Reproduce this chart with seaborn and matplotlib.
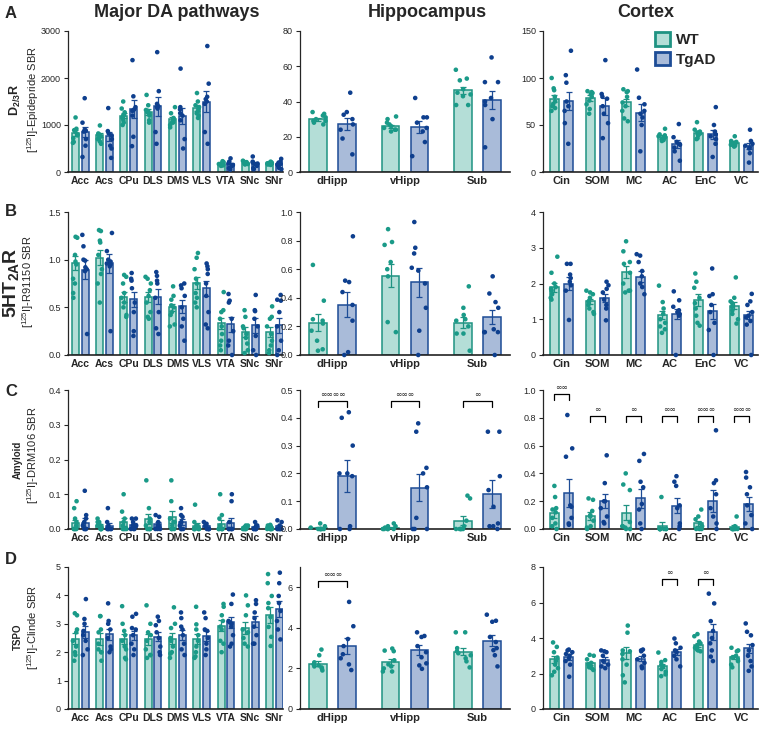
import numpy as np
import pandas as pd
import matplotlib.pyplot as plt
import seaborn as sns
from matplotlib.patches import Patch
from matplotlib.colors import to_hex
from matplotlib.ticker import FormatStrFormatter

sns.set_style("ticks")
plt.rcParams["font.family"] = ["Liberation Sans", "DejaVu Sans"]
plt.rcParams["mathtext.fontset"] = "custom"
plt.rcParams["mathtext.rm"] = "Liberation Sans"
plt.rcParams["mathtext.bf"] = "Liberation Sans:bold"
np.random.seed(3)

# ==============================
# DATA
# ==============================
da_regions = ["Acc", "Acs", "CPu", "DLS", "DMS", "VLS", "VTA", "SNc", "SNr"]
hip_regions = ["dHipp", "vHipp", "Sub"]
ctx_regions = ["Cin", "SOM", "MC", "AC", "EnC", "VC"]

# --- A: D2/3R, [125I]-Epidepride
d2_da_wt = [830, 780, 1200, 1280, 1120, 1360, 175, 200, 180]
d2_da_tg = [850, 760, 1340, 1400, 1190, 1500, 160, 170, 170]
d2_da_wt_sem = [60, 40, 55, 60, 50, 60, 12, 10, 10]
d2_da_tg_sem = [110, 100, 190, 200, 170, 220, 25, 25, 25]
d2_da_wt_pts = [
    [1160, 920, 890, 860, 800, 780, 720, 640, 620],
    [990, 820, 800, 790, 760, 720, 700, 650, 600],
    [1500, 1350, 1270, 1220, 1200, 1150, 1100, 1050, 1000],
    [1640, 1420, 1320, 1300, 1270, 1240, 1200, 1100, 1050],
    [1380, 1250, 1150, 1120, 1100, 1070, 1050, 1000, 950],
    [1680, 1500, 1420, 1380, 1350, 1300, 1250, 1200, 1150],
    [230, 210, 200, 180, 170, 160, 150, 140, 130],
    [240, 220, 210, 200, 200, 190, 180, 170, 160],
    [220, 200, 190, 185, 180, 170, 165, 160, 150],
]
d2_da_tg_pts = [
    [1570, 1050, 900, 880, 860, 700, 560, 320],
    [1360, 870, 820, 780, 700, 560, 500, 300],
    [2380, 1610, 1380, 1330, 1300, 1200, 750, 550],
    [2550, 1720, 1450, 1400, 1380, 1350, 850, 600],
    [2200, 1380, 1330, 1250, 1200, 1100, 700, 500],
    [2680, 1880, 1600, 1550, 1500, 1450, 850, 600],
    [290, 220, 200, 180, 150, 120, 80, 50],
    [330, 220, 200, 180, 170, 130, 80, 60],
    [280, 220, 200, 180, 160, 130, 90, 60],
]
d2_hip_wt = [29.8, 25.9, 46.3]
d2_hip_tg = [27.2, 25.5, 40.8]
d2_hip_wt_sem = [1.0, 0.9, 2.2]
d2_hip_tg_sem = [3.5, 3.3, 5.0]
d2_hip_wt_pts = [
    [34, 33, 32, 31, 30, 29, 28, 27, 29],
    [31.5, 30, 28, 27, 26, 25, 24, 23, 24],
    [58, 53, 52, 47, 45, 44, 43, 38, 38],
]
d2_hip_tg_pts = [
    [45, 34, 32.5, 30, 27, 24, 19, 10],
    [42, 31, 31, 28, 25, 23, 17, 9],
    [65, 51, 51, 42, 40, 38, 30, 14],
]
d2_ctx_wt = [78, 79, 74, 37.5, 42, 31]
d2_ctx_tg = [75.5, 70, 63, 30, 40, 27.5]
d2_ctx_wt_sem = [4, 3, 4, 2, 2, 1.5]
d2_ctx_tg_sem = [10, 9, 9, 4, 5, 3.5]
d2_ctx_wt_pts = [
    [100, 89, 87, 80, 75, 72, 68, 65, 70],
    [86, 85, 84, 83, 80, 76, 72, 67, 62],
    [88, 86, 85, 80, 74, 70, 65, 57, 54],
    [46, 40, 39, 38, 37, 36, 35, 34, 33],
    [53, 45, 43, 42, 41, 40, 39, 36, 35],
    [38, 33, 32, 31, 31, 30, 29, 28, 27],
]
d2_ctx_tg_pts = [
    [129, 103, 95, 75, 70, 65, 52, 30],
    [119, 83, 80, 78, 70, 62, 52, 36],
    [109, 79, 72, 65, 62, 58, 50, 22],
    [51, 37, 32, 30, 29, 26, 22, 12],
    [69, 50, 43, 40, 38, 35, 30, 16],
    [45, 33, 30, 28, 26, 25, 20, 10],
]

# --- B: 5HT2AR, [125I]-R91150
ht_da_wt = [0.965, 1.02, 0.61, 0.61, 0.50, 0.755, 0.333, 0.24, 0.24]
ht_da_tg = [0.895, 0.96, 0.585, 0.61, 0.51, 0.70, 0.32, 0.31, 0.31]
ht_da_wt_sem = [0.07, 0.08, 0.05, 0.05, 0.04, 0.06, 0.06, 0.05, 0.05]
ht_da_tg_sem = [0.10, 0.10, 0.08, 0.08, 0.07, 0.08, 0.08, 0.08, 0.08]
ht_da_wt_pts = [
    [1.24, 1.23, 1.05, 0.98, 0.95, 0.80, 0.75, 0.65, 0.60],
    [1.31, 1.30, 1.20, 1.18, 1.05, 0.90, 0.85, 0.75, 0.55],
    [0.84, 0.82, 0.75, 0.65, 0.60, 0.55, 0.50, 0.42, 0.40],
    [0.82, 0.80, 0.75, 0.68, 0.62, 0.55, 0.45, 0.40, 0.38],
    [0.72, 0.62, 0.58, 0.52, 0.50, 0.45, 0.42, 0.32, 0.30],
    [1.07, 1.02, 0.90, 0.80, 0.75, 0.65, 0.60, 0.55, 0.50],
    [0.66, 0.47, 0.45, 0.38, 0.30, 0.22, 0.15, 0.10, 0.05],
    [0.47, 0.40, 0.30, 0.28, 0.22, 0.18, 0.12, 0.05, 0.02],
    [0.51, 0.40, 0.38, 0.30, 0.22, 0.15, 0.10, 0.05, 0.02],
]
ht_da_tg_pts = [
    [1.26, 1.14, 1.00, 0.99, 0.92, 0.90, 0.88, 0.22],
    [1.28, 1.09, 1.00, 0.98, 0.96, 0.95, 0.93, 0.25],
    [0.86, 0.80, 0.78, 0.70, 0.55, 0.45, 0.25, 0.20],
    [0.87, 0.83, 0.78, 0.75, 0.60, 0.45, 0.28, 0.22],
    [0.75, 0.73, 0.70, 0.62, 0.50, 0.38, 0.30, 0.15],
    [0.96, 0.93, 0.90, 0.85, 0.75, 0.62, 0.45, 0.32, 0.28],
    [0.64, 0.57, 0.55, 0.38, 0.25, 0.15, 0.10, 0.0],
    [0.63, 0.47, 0.46, 0.38, 0.30, 0.20, 0.05, 0.0],
    [0.63, 0.58, 0.57, 0.45, 0.30, 0.15, 0.05, 0.0],
]
ht_hip_wt = [0.227, 0.553, 0.227]
ht_hip_tg = [0.353, 0.508, 0.267]
ht_hip_wt_sem = [0.06, 0.08, 0.04]
ht_hip_tg_sem = [0.085, 0.10, 0.05]
ht_hip_wt_pts = [
    [0.63, 0.38, 0.25, 0.24, 0.22, 0.17, 0.10, 0.04, 0.03],
    [0.88, 0.79, 0.77, 0.65, 0.60, 0.55, 0.23, 0.16],
    [0.48, 0.33, 0.28, 0.25, 0.24, 0.20, 0.15, 0.15, 0.03],
]
ht_hip_tg_pts = [
    [0.83, 0.52, 0.51, 0.44, 0.35, 0.24, 0.02, 0.0],
    [0.93, 0.75, 0.71, 0.61, 0.59, 0.50, 0.33, 0.17, 0.0],
    [0.55, 0.43, 0.37, 0.33, 0.18, 0.16, 0.16, 0.16, 0.0],
]
ht_ctx_wt = [1.89, 1.50, 2.31, 1.12, 1.55, 1.38]
ht_ctx_tg = [2.00, 1.60, 2.19, 1.14, 1.22, 1.12]
ht_ctx_wt_sem = [0.12, 0.08, 0.17, 0.12, 0.17, 0.10]
ht_ctx_tg_sem = [0.17, 0.12, 0.15, 0.14, 0.20, 0.12]
ht_ctx_wt_pts = [
    [2.75, 2.30, 2.00, 1.90, 1.80, 1.70, 1.60, 1.55, 1.85],
    [1.80, 1.75, 1.70, 1.60, 1.50, 1.40, 1.30, 1.20, 1.15],
    [3.18, 2.90, 2.60, 2.55, 2.30, 2.00, 1.80, 1.75, 1.80],
    [1.94, 1.48, 1.30, 1.15, 1.00, 0.90, 0.80, 0.72, 0.62],
    [2.28, 2.05, 1.88, 1.60, 1.45, 1.30, 1.10, 0.90, 0.82],
    [2.17, 1.60, 1.50, 1.45, 1.35, 1.25, 1.15, 1.00, 0.88],
]
ht_ctx_tg_pts = [
    [2.55, 2.55, 2.25, 2.15, 2.05, 1.95, 1.80, 0.98],
    [2.05, 1.95, 1.85, 1.75, 1.55, 1.40, 1.30, 0.97],
    [2.82, 2.78, 2.60, 2.35, 2.20, 2.00, 1.90, 1.70],
    [1.78, 1.53, 1.35, 1.25, 1.20, 1.15, 1.10, 0.0],
    [2.42, 1.70, 1.65, 1.40, 1.20, 0.90, 0.70, 0.0],
    [1.71, 1.50, 1.40, 1.20, 1.10, 1.05, 0.95, 0.85, 0.0],
]

# --- C: Amyloid, [125I]-DRM106
am_da_wt = [0.016, 0.010, 0.020, 0.028, 0.035, 0.010, 0.015, 0.005, 0.005]
am_da_tg = [0.018, 0.010, 0.012, 0.015, 0.020, 0.008, 0.018, 0.005, 0.008]
am_da_wt_sem = [0.009, 0.004, 0.011, 0.015, 0.017, 0.008, 0.011, 0.002, 0.002]
am_da_tg_sem = [0.013, 0.007, 0.005, 0.006, 0.008, 0.003, 0.014, 0.003, 0.003]
am_da_wt_pts = [
    [0.08, 0.06, 0.03, 0.02, 0.01, 0.0, 0.0, 0.0, 0.0],
    [0.03, 0.02, 0.02, 0.01, 0.01, 0.0, 0.0, 0.0, 0.0],
    [0.10, 0.05, 0.03, 0.02, 0.01, 0.0, 0.0, 0.0, 0.0],
    [0.14, 0.06, 0.03, 0.02, 0.01, 0.0, 0.0, 0.0, 0.0],
    [0.14, 0.08, 0.03, 0.02, 0.02, 0.01, 0.0, 0.0, 0.0],
    [0.07, 0.02, 0.01, 0.01, 0.0, 0.0, 0.0, 0.0, 0.0],
    [0.10, 0.04, 0.03, 0.01, 0.0, 0.0, 0.0, 0.0, 0.0],
    [0.01, 0.01, 0.005, 0.005, 0.0, 0.0, 0.0, 0.0, 0.0],
    [0.012, 0.01, 0.008, 0.005, 0.0, 0.0, 0.0, 0.0, 0.0],
]
am_da_tg_pts = [
    [0.11, 0.04, 0.03, 0.02, 0.01, 0.0, 0.0, 0.0],
    [0.06, 0.02, 0.01, 0.0, 0.0, 0.0, 0.0, 0.0],
    [0.03, 0.03, 0.02, 0.01, 0.01, 0.0, 0.0, 0.0],
    [0.04, 0.035, 0.02, 0.01, 0.01, 0.0, 0.0, 0.0],
    [0.06, 0.04, 0.035, 0.02, 0.01, 0.0, 0.0, 0.0],
    [0.02, 0.015, 0.01, 0.01, 0.0, 0.0, 0.0, 0.0],
    [0.10, 0.08, 0.02, 0.0, 0.0, 0.0, 0.0, 0.0],
    [0.02, 0.01, 0.01, 0.0, 0.0, 0.0, 0.0, 0.0],
    [0.025, 0.02, 0.01, 0.0, 0.0, 0.0, 0.0, 0.0],
]
am_hip_wt = [0.004, 0.005, 0.029]
am_hip_tg = [0.19, 0.149, 0.125]
am_hip_wt_sem = [0.002, 0.002, 0.016]
am_hip_tg_sem = [0.057, 0.05, 0.05]
am_hip_wt_pts = [
    [0.02, 0.01, 0.005, 0.0, 0.0, 0.0, 0.0, 0.0, 0.0],
    [0.02, 0.01, 0.01, 0.005, 0.0, 0.0, 0.0, 0.0, 0.0],
    [0.12, 0.11, 0.03, 0.01, 0.0, 0.0, 0.0, 0.0, 0.0],
]
am_hip_tg_pts = [
    [0.42, 0.40, 0.30, 0.20, 0.20, 0.19, 0.01, 0.0, 0.0],
    [0.38, 0.35, 0.22, 0.20, 0.15, 0.04, 0.0, 0.0, 0.0],
    [0.35, 0.35, 0.19, 0.14, 0.08, 0.02, 0.01, 0.01, 0.0],
]
am_hip_sig = ["∞∞∞∞", "∞∞∞", "∞"]
am_ctx_wt = [0.113, 0.094, 0.118, 0.024, 0.04, 0.017]
am_ctx_tg = [0.26, 0.204, 0.22, 0.168, 0.204, 0.177]
am_ctx_wt_sem = [0.035, 0.03, 0.055, 0.026, 0.016, 0.01]
am_ctx_tg_sem = [0.10, 0.05, 0.07, 0.055, 0.08, 0.05]
am_ctx_wt_pts = [
    [0.31, 0.23, 0.15, 0.14, 0.12, 0.08, 0.04, 0.02, 0.0],
    [0.22, 0.21, 0.13, 0.10, 0.09, 0.06, 0.02, 0.01, 0.0],
    [0.40, 0.32, 0.28, 0.05, 0.02, 0.02, 0.01, 0.0, 0.0],
    [0.23, 0.0, 0.0, 0.0, 0.0, 0.0, 0.0, 0.0, 0.0],
    [0.14, 0.09, 0.07, 0.04, 0.02, 0.0, 0.0, 0.0],
    [0.09, 0.02, 0.01, 0.0, 0.0, 0.0, 0.0, 0.0, 0.0],
]
am_ctx_tg_pts = [
    [0.82, 0.58, 0.52, 0.17, 0.16, 0.08, 0.04, 0.03],
    [0.53, 0.33, 0.20, 0.20, 0.15, 0.09, 0.05, 0.04],
    [0.54, 0.49, 0.34, 0.30, 0.18, 0.14, 0.04, 0.0],
    [0.38, 0.34, 0.31, 0.17, 0.15, 0.04, 0.02, 0.0],
    [0.71, 0.35, 0.33, 0.25, 0.15, 0.09, 0.04, 0.0],
    [0.41, 0.37, 0.30, 0.25, 0.17, 0.10, 0.04, 0.0],
]
am_ctx_sig = ["∞∞", "∞", "∞", "∞∞", "∞∞∞", "∞∞∞"]

# --- D: TSPO, [125I]-Clinde
ts_da_wt = [2.48, 2.46, 2.47, 2.45, 2.48, 2.47, 2.93, 2.86, 3.31]
ts_da_tg = [2.72, 2.63, 2.59, 2.55, 2.60, 2.58, 3.05, 3.08, 3.52]
ts_da_wt_sem = [0.20, 0.20, 0.18, 0.20, 0.18, 0.18, 0.20, 0.22, 0.28]
ts_da_tg_sem = [0.22, 0.20, 0.17, 0.17, 0.17, 0.17, 0.20, 0.20, 0.28]
ts_da_wt_pts = [
    [3.37, 3.30, 2.80, 2.70, 2.40, 2.20, 2.00, 1.70, 1.90],
    [3.27, 3.27, 2.80, 2.70, 2.30, 2.10, 2.00, 1.70, 2.00],
    [3.62, 3.00, 2.75, 2.60, 2.40, 2.20, 2.10, 1.80, 1.75],
    [3.65, 3.00, 2.70, 2.60, 2.40, 2.10, 1.90, 1.80, 1.90],
    [3.58, 3.00, 2.85, 2.50, 2.40, 2.20, 2.00, 1.80, 1.95],
    [3.60, 2.98, 2.80, 2.60, 2.40, 2.20, 2.00, 1.80, 1.85],
    [3.70, 3.60, 3.30, 3.10, 2.90, 2.80, 2.40, 2.30, 2.00],
    [4.00, 3.65, 3.30, 2.80, 2.70, 2.50, 2.30, 2.20],
    [4.75, 4.43, 3.98, 3.73, 3.55, 3.24, 2.89, 2.54, 2.22],
]
ts_da_tg_pts = [
    [3.87, 3.17, 3.00, 2.75, 2.60, 2.40, 2.10, 1.90],
    [3.72, 3.10, 3.00, 2.80, 2.50, 2.20, 2.10, 2.00],
    [3.35, 3.25, 2.85, 2.80, 2.60, 2.30, 2.10, 1.90],
    [3.25, 3.10, 2.95, 2.70, 2.50, 2.20, 2.00, 1.90],
    [3.40, 3.20, 2.90, 2.80, 2.60, 2.30, 2.10, 1.90],
    [3.40, 3.20, 2.80, 2.75, 2.50, 2.30, 2.10, 1.90],
    [4.03, 3.70, 3.10, 3.05, 2.90, 2.60, 2.30, 2.20, 3.00],
    [3.83, 3.70, 3.40, 3.20, 2.90, 2.60, 2.30, 2.30],
    [4.80, 4.43, 3.98, 3.73, 3.45, 3.10, 2.80, 2.45],
]
ts_hip_wt = [2.24, 2.32, 2.82]
ts_hip_tg = [3.10, 2.90, 3.37]
ts_hip_wt_sem = [0.12, 0.15, 0.18]
ts_hip_tg_sem = [0.38, 0.24, 0.28]
ts_hip_wt_pts = [
    [2.93, 2.65, 2.30, 2.20, 2.15, 2.10, 2.00, 1.90, 2.05],
    [2.98, 2.88, 2.85, 2.40, 2.20, 2.10, 2.00, 1.85, 1.85],
    [3.78, 3.78, 3.00, 2.85, 2.75, 2.65, 2.50, 2.35, 2.05],
]
ts_hip_tg_pts = [
    [5.28, 4.08, 3.45, 3.10, 2.70, 2.50, 2.20, 1.92],
    [3.78, 3.60, 3.55, 3.10, 2.80, 2.55, 2.25, 2.15, 1.98],
    [4.65, 4.35, 4.30, 3.55, 3.30, 3.00, 2.90, 2.65, 2.10],
]
ts_hip_sig = ["∞∞∞", "", ""]
ts_ctx_wt = [2.80, 2.57, 3.14, 2.42, 3.60, 2.93]
ts_ctx_tg = [2.95, 2.76, 2.84, 3.22, 4.32, 3.41]
ts_ctx_wt_sem = [0.20, 0.10, 0.35, 0.13, 0.12, 0.12]
ts_ctx_tg_sem = [0.17, 0.15, 0.15, 0.17, 0.45, 0.28]
ts_ctx_wt_pts = [
    [3.75, 3.50, 3.20, 2.90, 2.70, 2.50, 2.30, 2.10, 1.90],
    [3.05, 3.00, 2.80, 2.60, 2.50, 2.40, 2.35, 2.30, 2.20],
    [4.70, 4.30, 3.30, 3.25, 3.10, 2.80, 2.50, 1.90, 1.50],
    [3.18, 2.75, 2.65, 2.50, 2.40, 2.25, 2.10, 1.95, 1.85],
    [4.22, 4.10, 3.80, 3.70, 3.55, 3.45, 3.35, 3.25, 3.30],
    [3.45, 3.30, 3.25, 3.00, 2.90, 2.80, 2.70, 2.50, 2.35],
]
ts_ctx_tg_pts = [
    [3.35, 3.30, 3.20, 3.10, 3.00, 2.85, 2.70, 2.50, 1.82],
    [3.30, 3.25, 3.20, 3.00, 2.70, 2.50, 2.40, 2.30],
    [3.35, 3.30, 3.25, 3.00, 2.80, 2.60, 2.40, 2.30],
    [3.97, 3.70, 3.45, 3.30, 3.20, 3.00, 2.80, 2.40],
    [6.50, 5.95, 4.95, 4.40, 4.00, 3.70, 3.30, 2.95, 2.70],
    [4.82, 4.35, 4.15, 3.60, 3.30, 3.00, 2.70, 2.40, 2.15],
]
ts_ctx_sig = ["", "", "", "∞", "∞", ""]

# ==============================
# STYLE
# ==============================
WT_FILL, WT_EDGE, WT_DOT = "#b4ded7", "#1f9382", "#1a9a88"
TG_FILL, TG_EDGE, TG_DOT = "#a9bbd9", "#1d4c96", "#0e3f8e"
GENO = ["WT", "TgAD"]

W, H = 760, 729
fig = plt.figure(figsize=(W / 100, H / 100), dpi=100)


def box(x0, x1, y0, y1):
    return [x0 / W, 1 - y1 / H, (x1 - x0) / W, (y1 - y0) / H]


cols = {"da": (68, 283, (-0.5, 8.35), 0.28, 7.5),
        "hip": (300, 510, (-0.45, 2.45), 0.38, 8),
        "ctx": (543, 758, (-0.51, 5.46), 0.375, 8)}
rows = {"A": (31, 172), "B": (212, 355), "C": (390, 529), "D": (567, 709)}


def draw_panel(ax, regions, wt, tg, wt_sem, tg_sem, wt_pts, tg_pts, col, ylim, yticks, fmt=None):
    x0, x1, xlim, gap, xfs = cols[col]
    n = len(regions)
    bars = pd.DataFrame({"region": regions * 2, "geno": ["WT"] * n + ["TgAD"] * n,
                         "value": list(wt) + list(tg)})
    sns.barplot(data=bars, x="region", y="value", hue="geno", order=regions, hue_order=GENO,
                palette={"WT": WT_FILL, "TgAD": TG_FILL}, saturation=1, width=0.8, gap=gap,
                errorbar=None, legend=False, ax=ax, linewidth=1.1)
    for p in ax.patches:
        p.set_edgecolor(WT_EDGE if to_hex(p.get_facecolor()) == WT_FILL else TG_EDGE)

    x = np.arange(n)
    ax.errorbar(x - 0.2, wt, yerr=wt_sem, fmt="none", ecolor=WT_EDGE, elinewidth=0.9,
                capsize=2, capthick=0.9, zorder=3)
    ax.errorbar(x + 0.2, tg, yerr=tg_sem, fmt="none", ecolor=TG_EDGE, elinewidth=0.9,
                capsize=2, capthick=0.9, zorder=3)

    recs = []
    for r, vals in zip(regions, wt_pts):
        recs += [(r, "WT", v) for v in vals]
    for r, vals in zip(regions, tg_pts):
        recs += [(r, "TgAD", v) for v in vals]
    pts = pd.DataFrame(recs, columns=["region", "geno", "value"])
    sns.stripplot(data=pts, x="region", y="value", hue="geno", order=regions, hue_order=GENO,
                  palette={"WT": WT_DOT, "TgAD": TG_DOT}, dodge=True, jitter=0.22, size=3.3,
                  linewidth=0, legend=False, ax=ax, zorder=4, clip_on=False)

    ax.set_xlim(xlim)
    ax.set_ylim(ylim)
    ax.set_yticks(yticks)
    if fmt:
        ax.yaxis.set_major_formatter(FormatStrFormatter(fmt))
    ax.set_xlabel("")
    ax.set_ylabel("")
    ax.tick_params(axis="x", length=0, pad=3, labelsize=xfs)
    for lab in ax.get_xticklabels():
        lab.set_fontweight("bold")
    ax.tick_params(axis="y", length=3, width=0.8, labelsize=6.5, pad=2)
    sns.despine(ax=ax)
    ax.spines["left"].set_linewidth(0.9)
    ax.spines["bottom"].set_linewidth(1.2)
    ax.spines["bottom"].set_color("#222222")


def brackets(ax, labels, y, drop, text_gap):
    for i, lab in enumerate(labels):
        if not lab:
            continue
        ax.plot([i - 0.2, i - 0.2, i + 0.2, i + 0.2], [y - drop, y, y, y - drop],
                color="black", lw=0.9, clip_on=False)
        ax.text(i, y + text_gap, lab, ha="center", va="bottom", fontsize=5.5,
                family=["DejaVu Sans"])


def add_ax(row, col):
    x0, x1 = cols[col][:2]
    y0, y1 = rows[row]
    return fig.add_axes(box(x0, x1, y0, y1))


# ==============================
# ROW A — D2/3R
# ==============================
ax = add_ax("A", "da")
draw_panel(ax, da_regions, d2_da_wt, d2_da_tg, d2_da_wt_sem, d2_da_tg_sem,
           d2_da_wt_pts, d2_da_tg_pts, "da", (0, 3000), [0, 1000, 2000, 3000])
ax = add_ax("A", "hip")
draw_panel(ax, hip_regions, d2_hip_wt, d2_hip_tg, d2_hip_wt_sem, d2_hip_tg_sem,
           d2_hip_wt_pts, d2_hip_tg_pts, "hip", (0, 80), [0, 20, 40, 60, 80])
ax = add_ax("A", "ctx")
draw_panel(ax, ctx_regions, d2_ctx_wt, d2_ctx_tg, d2_ctx_wt_sem, d2_ctx_tg_sem,
           d2_ctx_wt_pts, d2_ctx_tg_pts, "ctx", (0, 150), [0, 50, 100, 150])
handles = [Patch(facecolor=WT_FILL, edgecolor=WT_EDGE, linewidth=2, label="WT"),
           Patch(facecolor=TG_FILL, edgecolor=TG_EDGE, linewidth=2, label="TgAD")]
ax.legend(handles=handles, loc="upper left", bbox_to_anchor=(0.455, 1.09), frameon=False,
          handlelength=1.0, handleheight=1.0, handletextpad=0.4, labelspacing=0.3,
          prop={"weight": "bold", "size": 11})

# ==============================
# ROW B — 5HT2AR
# ==============================
ax = add_ax("B", "da")
draw_panel(ax, da_regions, ht_da_wt, ht_da_tg, ht_da_wt_sem, ht_da_tg_sem,
           ht_da_wt_pts, ht_da_tg_pts, "da", (0, 1.5), [0, 0.5, 1.0, 1.5], "%.1f")
ax = add_ax("B", "hip")
draw_panel(ax, hip_regions, ht_hip_wt, ht_hip_tg, ht_hip_wt_sem, ht_hip_tg_sem,
           ht_hip_wt_pts, ht_hip_tg_pts, "hip", (0, 1.0), np.arange(0, 1.01, 0.2), "%.1f")
ax = add_ax("B", "ctx")
draw_panel(ax, ctx_regions, ht_ctx_wt, ht_ctx_tg, ht_ctx_wt_sem, ht_ctx_tg_sem,
           ht_ctx_wt_pts, ht_ctx_tg_pts, "ctx", (0, 4), [0, 1, 2, 3, 4])

# ==============================
# ROW C — Amyloid
# ==============================
ax = add_ax("C", "da")
draw_panel(ax, da_regions, am_da_wt, am_da_tg, am_da_wt_sem, am_da_tg_sem,
           am_da_wt_pts, am_da_tg_pts, "da", (0, 0.4), np.arange(0, 0.41, 0.1), "%.1f")
ax = add_ax("C", "hip")
draw_panel(ax, hip_regions, am_hip_wt, am_hip_tg, am_hip_wt_sem, am_hip_tg_sem,
           am_hip_wt_pts, am_hip_tg_pts, "hip", (0, 0.5), np.arange(0, 0.51, 0.1), "%.1f")
brackets(ax, am_hip_sig, 0.46, 0.022, 0.008)
ax = add_ax("C", "ctx")
draw_panel(ax, ctx_regions, am_ctx_wt, am_ctx_tg, am_ctx_wt_sem, am_ctx_tg_sem,
           am_ctx_wt_pts, am_ctx_tg_pts, "ctx", (0, 1.0), np.arange(0, 1.01, 0.2), "%.1f")
brackets(ax, am_ctx_sig[:1], 0.97, 0.04, 0.015)
brackets(ax, [""] + am_ctx_sig[1:], 0.81, 0.04, 0.015)

# ==============================
# ROW D — TSPO
# ==============================
ax = add_ax("D", "da")
draw_panel(ax, da_regions, ts_da_wt, ts_da_tg, ts_da_wt_sem, ts_da_tg_sem,
           ts_da_wt_pts, ts_da_tg_pts, "da", (0, 5), [0, 1, 2, 3, 4, 5])
ax = add_ax("D", "hip")
draw_panel(ax, hip_regions, ts_hip_wt, ts_hip_tg, ts_hip_wt_sem, ts_hip_tg_sem,
           ts_hip_wt_pts, ts_hip_tg_pts, "hip", (0, 7), [0, 2, 4, 6])
brackets(ax, ts_hip_sig, 6.33, 0.3, 0.1)
ax = add_ax("D", "ctx")
draw_panel(ax, ctx_regions, ts_ctx_wt, ts_ctx_tg, ts_ctx_wt_sem, ts_ctx_tg_sem,
           ts_ctx_wt_pts, ts_ctx_tg_pts, "ctx", (0, 8), [0, 2, 4, 6, 8])
brackets(ax, ts_ctx_sig, 7.33, 0.35, 0.12)

# ==============================
# TITLES, PANEL LETTERS, Y LABELS
# ==============================
for x, t in [(177, "Major DA pathways"), (427, "Hippocampus"), (646, "Cortex")]:
    fig.text(x / W, 1 - 17 / H, t, ha="center", va="baseline", fontsize=13, fontweight="bold")

for y, t in [(13, "A"), (212, "B"), (392, "C"), (560, "D")]:
    fig.text(11 / W, 1 - y / H, t, ha="center", va="center", fontsize=12, fontweight="bold")

ylabels = [
    (15, 100, r"$\mathbf{D_{2/3}R}$", 9, 33, 100, r"[$^{125}$I]-Epidepride SBR"),
    (11, 283, r"$\mathbf{5HT_{2A}R}$", 14, 28, 282, r"[$^{125}$I]-R91150 SBR"),
    (18, 460, "Amyloid", 7, 33, 455, r"[$^{125}$I]-DRM106 SBR"),
    (18, 637, "TSPO", 7, 33, 627, r"[$^{125}$I]-Clinde SBR"),
]
for x1, y1, t1, fs1, x2, y2, t2 in ylabels:
    fig.text(x1 / W, 1 - y1 / H, t1, rotation=90, ha="center", va="center",
             fontsize=fs1, fontweight="bold")
    fig.text(x2 / W, 1 - y2 / H, t2, rotation=90, ha="center", va="center", fontsize=8)

fig.savefig("out.png", dpi=100)
